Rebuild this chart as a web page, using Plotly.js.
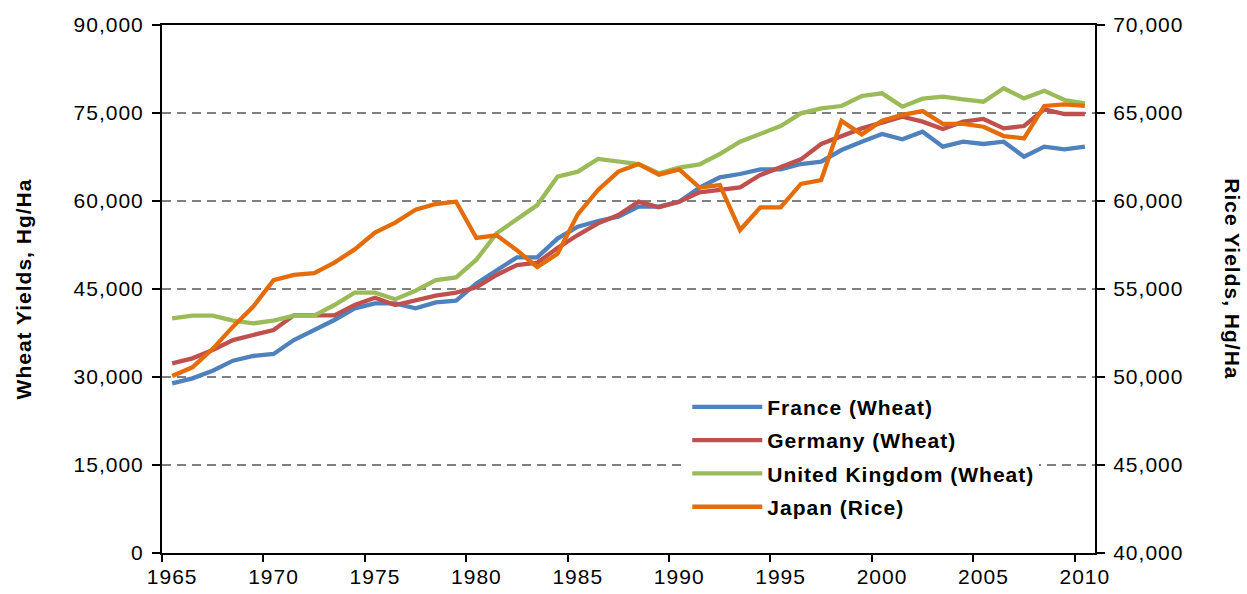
<!DOCTYPE html>
<html>
<head>
<meta charset="utf-8">
<script src="https://cdn.plot.ly/plotly-3.0.1.min.js"></script>
<style>
  html, body { margin: 0; padding: 0; background: #fff; }
  #myPlot { width: 1247px; height: 594px; }
  /* excel spreads its letters a bit; plotly measures text in a tester svg outside the div, so keep this global */
  svg text { letter-spacing: 1px; }
</style>
</head>
<body>
<div id="myPlot"></div>
<script>
// yields, one value per year 1965..2010
var years = [];
for (var yr = 1965; yr <= 2010; yr++) years.push(yr);

var france = [28900, 29770, 31080, 32780, 33580, 33920, 36300, 38010, 39720, 41700,
              42550, 42550, 41700, 42730, 43010, 45960, 48240, 50400, 50400, 53600,
              55620, 56590, 57330, 59030, 59030, 59880, 62270, 64030, 64600, 65400,
              65400, 66300, 66700, 68690, 70110, 71420, 70510, 71820, 69260, 70110,
              69720, 70110, 67560, 69260, 68800, 69260];
var germany = [32330, 33180, 34600, 36300, 37160, 38010, 40510, 40510, 40510, 42270,
               43520, 42270, 43010, 43860, 44370, 45290, 47390, 49090, 49480, 52000,
               54200, 56190, 57610, 59880, 58920, 59880, 61480, 61870, 62330, 64430,
               65850, 67100, 69720, 70960, 72380, 73350, 74370, 73520, 72270, 73520,
               73980, 72380, 72780, 75620, 74830, 74830];
var uk = [40000, 40450, 40450, 39600, 39150, 39600, 40450, 40450, 42270, 44370,
          44370, 43240, 44710, 46530, 46990, 50000, 54490, 56880, 59300, 64150,
          65000, 67160, 66700, 66300, 64720, 65680, 66250, 68010, 70110, 71420,
          72780, 74940, 75790, 76190, 77900, 78350, 76080, 77440, 77780, 77330,
          76930, 79210, 77500, 78800, 77210, 76650];
var japan = [50060, 50550, 51600, 52860, 54000, 55500, 55800, 55900, 56500, 57250,
             58200, 58770, 59500, 59830, 59960, 57900, 58050, 57200, 56250, 57000,
             59240, 60630, 61670, 62100, 61500, 61800, 60760, 60900, 58350, 59640,
             59640, 60970, 61190, 64550, 63790, 64560, 64890, 65110, 64380, 64380,
             64220, 63690, 63560, 65400, 65490, 65400];

var xLabels = [1965, 1970, 1975, 1980, 1985, 1990, 1995, 2000, 2005, 2010];
var wheatTicks = [0, 15000, 30000, 45000, 60000, 75000, 90000];
var riceTicks = [40000, 45000, 50000, 55000, 60000, 65000, 70000];

// tick marks sit between categories, like the excel original
var boundaryTicks = xLabels.map(function(v){ return v - 0.5; });

var font = "Liberation Sans, Arial, sans-serif";

function series(name, yv, color, axis) {
  return {
    x: years, y: yv, name: name, yaxis: axis,
    type: "scatter", mode: "lines",
    line: {color: color, width: 4.3},
    legendgroup: name
  };
}

var data = [
  series("France (Wheat)", france, "#4F81BD", "y"),
  series("Germany (Wheat)", germany, "#C0504D", "y"),
  series("United Kingdom (Wheat)", uk, "#9BBB59", "y"),
  series("Japan (Rice)", japan, "#E46C0A", "y2")
];

var tickFont = {family: font, size: 21, color: "#000"};
var titleFont = {family: font, size: 21, color: "#000", weight: "bold"};

var layout = {
  width: 1247, height: 594,
  margin: {l: 162, r: 152, t: 25, b: 41},
  paper_bgcolor: "#fff", plot_bgcolor: "#fff",
  font: {family: font, size: 21, color: "#000"},
  showlegend: true,
  legend: {
    x: 0.563, y: 0.315, xanchor: "left", yanchor: "top",
    bgcolor: "#fff", borderwidth: 0,
    font: {family: font, size: 21, color: "#000", weight: "bold"},
    tracegroupgap: 3, itemwidth: 70, traceorder: "grouped"
  },
  xaxis: {
    range: [1964.5, 2010.5],
    tickmode: "array", tickvals: xLabels, ticktext: xLabels.map(String),
    ticks: "", showgrid: false, zeroline: false, ticklabelstandoff: 4,
    showline: true, linecolor: "#000", linewidth: 2, mirror: true,
    tickfont: tickFont,
    minor: {tickmode: "array", tickvals: boundaryTicks, ticks: "outside",
            ticklen: 7, tickwidth: 2, tickcolor: "#000", showgrid: false}
  },
  yaxis: {
    range: [0, 90000], tickmode: "array", tickvals: wheatTicks,
    tickformat: ",d", ticks: "outside", ticklen: 8, tickwidth: 2, tickcolor: "#000",
    showline: true, linecolor: "#000", linewidth: 2, zeroline: false,
    showgrid: true, gridcolor: "#808080", gridwidth: 2, griddash: "9px,6px",
    tickfont: tickFont, ticklabelstandoff: 4,
    title: {text: "Wheat Yields, Hg/Ha", standoff: 36, font: titleFont}
  },
  yaxis2: {
    range: [40000, 70000], tickmode: "array", tickvals: riceTicks,
    tickformat: ",d", overlaying: "y", side: "right",
    ticks: "outside", ticklen: 8, tickwidth: 2, tickcolor: "#000",
    showline: true, linecolor: "#000", linewidth: 2, zeroline: false,
    showgrid: false, tickfont: tickFont, ticklabelstandoff: 4
  },
  annotations: [{
    text: "Rice Yields, Hg/Ha", textangle: 90,
    xref: "paper", yref: "paper", x: 1.147, y: 0.52,
    xanchor: "center", yanchor: "middle", showarrow: false,
    font: titleFont
  }]
};

Plotly.newPlot("myPlot", data, layout, {staticPlot: true});
</script>
</body>
</html>
